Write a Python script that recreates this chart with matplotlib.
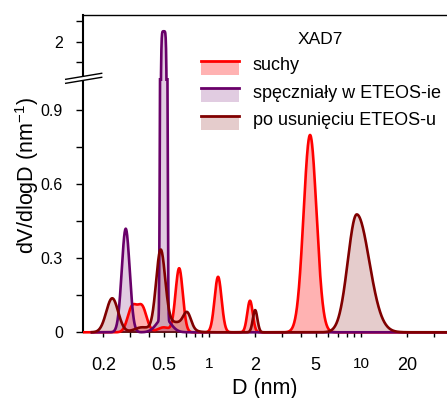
import numpy as np
import matplotlib.pyplot as plt
from matplotlib.lines import Line2D
from matplotlib.patches import Rectangle, Polygon
from matplotlib.legend_handler import HandlerBase
from matplotlib.ticker import NullLocator

plt.rcParams['font.family'] = ['Liberation Sans', 'DejaVu Sans']
plt.rcParams['mathtext.fontset'] = 'custom'
plt.rcParams['mathtext.rm'] = 'Liberation Sans'

# peaks: centre D (nm), height dV/dlogD, width in log10(D) (left / right side)
dry_d = [0.31, 0.36, 0.50, 0.632, 1.14, 1.85, 4.6]
dry_h = [0.101, 0.101, 0.02, 0.259, 0.225, 0.128, 0.80]
dry_wl = [0.030, 0.030, 0.040, 0.024, 0.023, 0.018, 0.0425]
dry_wr = [0.030, 0.030, 0.040, 0.024, 0.023, 0.018, 0.0425]
dry_p = [2, 2, 2, 2, 2, 2, 2]

swollen_d = [0.281, 0.50, 0.50]
swollen_h = [0.42, 1.99, 0.06]
swollen_wl = [0.026, 0.023, 0.045]
swollen_wr = [0.026, 0.023, 0.045]
swollen_p = [2, 6, 2]

removed_d = [0.229, 0.36, 0.477, 0.60, 0.714, 2.0, 9.34]
removed_h = [0.138, 0.02, 0.32, 0.04, 0.06, 0.09, 0.478]
removed_wl = [0.039, 0.05, 0.030, 0.07, 0.025, 0.015, 0.059]
removed_wr = [0.039, 0.05, 0.030, 0.07, 0.025, 0.015, 0.082]
removed_p = [2, 2, 2, 2, 2, 2, 2]

labels = ['suchy', 'spęczniały w ETEOS-ie', 'po usunięciu ETEOS-u']
colors = ['#ff0000', '#690069', '#800000']
fill_alpha = [0.3, 0.2, 0.2]
d_start = [0.147, 0.165, 0.165]

x_ticks = [0.2, 0.3, 0.4, 0.5, 0.6, 0.7, 0.8, 0.9, 1, 2, 3, 4, 5, 6, 7, 8, 9, 10, 20, 30]
x_ticklabels = ['0.2', '', '', '0.5', '', '', '', '', '1', '2', '', '', '5', '', '', '', '', '10', '20', '']


def psd(D, c, h, wl, wr, p):
    x = np.log10(D)[:, None]
    lc = np.log10(c)
    w = np.where(x < lc, wl, wr)
    return (np.array(h) * np.exp(-0.5 * np.abs((x - lc) / w) ** np.array(p))).sum(axis=1)


series = [(dry_d, dry_h, dry_wl, dry_wr, dry_p),
          (swollen_d, swollen_h, swollen_wl, swollen_wr, swollen_p),
          (removed_d, removed_h, removed_wl, removed_wr, removed_p)]

W, H = 447, 398
fx = lambda px: px / W
fy = lambda py: 1 - py / H

fig = plt.figure(figsize=(W / 100, H / 100), dpi=100)
ax = fig.add_axes([fx(83), fy(332.3), fx(447) - fx(83), fy(78) - fy(332.3)])
axt = fig.add_axes([fx(83), fy(78), fx(447) - fx(83), fy(15) - fy(78)])

handles = []
for a in (ax, axt):
    a.set_xscale('log')
    a.set_xlim(0.147, 36.7)
    clip = Rectangle((0, -0.05), 1, 1.05, transform=a.transAxes)
    for (c, h, wl, wr, p), col, al, d0 in zip(series, colors, fill_alpha, d_start):
        D = np.logspace(np.log10(d0), np.log10(36.7), 2000)
        y = psd(D, c, h, wl, wr, p)
        a.fill_between(D, 0, y, color=col, alpha=al, lw=0, zorder=2.6)
    for (c, h, wl, wr, p), col, d0 in zip(series, colors, d_start):
        D = np.logspace(np.log10(d0), np.log10(36.7), 2000)
        y = psd(D, c, h, wl, wr, p)
        ln, = a.plot(D, y, color=col, lw=1.9, zorder=3, solid_capstyle='butt')
        ln.set_clip_path(clip)
        if a is ax:
            handles.append(ln)

ax.set_ylim(0, 1.031)
axt.set_ylim(1.825, 2.128)

ax.set_xticks(x_ticks)
ax.set_xticklabels(x_ticklabels)
ax.xaxis.set_minor_locator(NullLocator())
for t in ax.get_xticklabels():
    t.set_fontsize(13 if t.get_text() not in ('1', '10') else 11)
ax.set_yticks([0, 0.3, 0.6, 0.9])
ax.set_yticklabels(['0', '0.3', '0.6', '0.9'])
ax.set_yticks([0.15, 0.45, 0.75], minor=True)
axt.set_yticks([2])
axt.set_yticklabels(['2'])
axt.set_yticks([1.9, 2.1], minor=True)
axt.xaxis.set_major_locator(NullLocator())
axt.xaxis.set_minor_locator(NullLocator())

ax.tick_params(axis='x', direction='out', length=3.6, width=1, pad=14.5)
ax.tick_params(axis='y', which='both', direction='out', length=5, width=1, pad=9.5, labelsize=11.5)
axt.tick_params(axis='y', which='both', direction='out', length=5, width=1, pad=9.5, labelsize=11.5)

for a in (ax, axt):
    a.spines['right'].set_visible(False)
    a.spines['left'].set_linewidth(1.5)
ax.spines['top'].set_visible(False)
ax.spines['bottom'].set_linewidth(1.2)
axt.spines['bottom'].set_visible(False)
axt.spines['top'].set_linewidth(1.0)

# axis break marks
brk_x = [65.7, 101.7]
brk_y1 = [79.3, 73.3]
brk_y2 = [83.3, 77.3]
gap = Polygon([[fx(brk_x[0]), fy(brk_y1[0])], [fx(brk_x[1]), fy(brk_y1[1])],
               [fx(brk_x[1]), fy(brk_y2[1])], [fx(brk_x[0]), fy(brk_y2[0])]],
              closed=True, transform=fig.transFigure, facecolor='white', edgecolor='none', zorder=10)
fig.patches.append(gap)
for yy in (brk_y1, brk_y2):
    fig.lines.append(Line2D([fx(v) for v in brk_x], [fy(v) for v in yy], color='black', lw=1.0,
                            transform=fig.transFigure, zorder=11))

fig.text(fx(265), fy(394), 'D (nm)', ha='center', va='baseline', fontsize=15.5)
fig.text(fx(27), fy(175), r'dV/dlogD (nm$^{-1}$)', ha='center', va='center', rotation=90, fontsize=15.5)


class HandlerFillLine(HandlerBase):
    def __init__(self, alpha):
        super().__init__()
        self.alpha = alpha

    def create_artists(self, legend, orig_handle, xdescent, ydescent, width, height, fontsize, trans):
        col = orig_handle.get_color()
        top = -ydescent + 0.75 * height
        rect = Rectangle((-xdescent, -ydescent - 0.35 * height), width, 1.1 * height,
                         facecolor=col, alpha=self.alpha, lw=0, transform=trans)
        line = Line2D([-xdescent, -xdescent + width], [top, top], color=col, lw=2.0, transform=trans)
        return [rect, line]


hmap = {h: HandlerFillLine(al) for h, al in zip(handles, fill_alpha)}
leg = fig.legend(handles, labels, title='XAD7', loc='upper left', bbox_to_anchor=(fx(200.7), fy(32)),
                 frameon=False, fontsize=13, title_fontsize=12.5, handlelength=2.14, handletextpad=0.74,
                 labelspacing=0.58, borderpad=0, borderaxespad=0, handler_map=hmap)

fig.savefig('out.png', dpi=100)
